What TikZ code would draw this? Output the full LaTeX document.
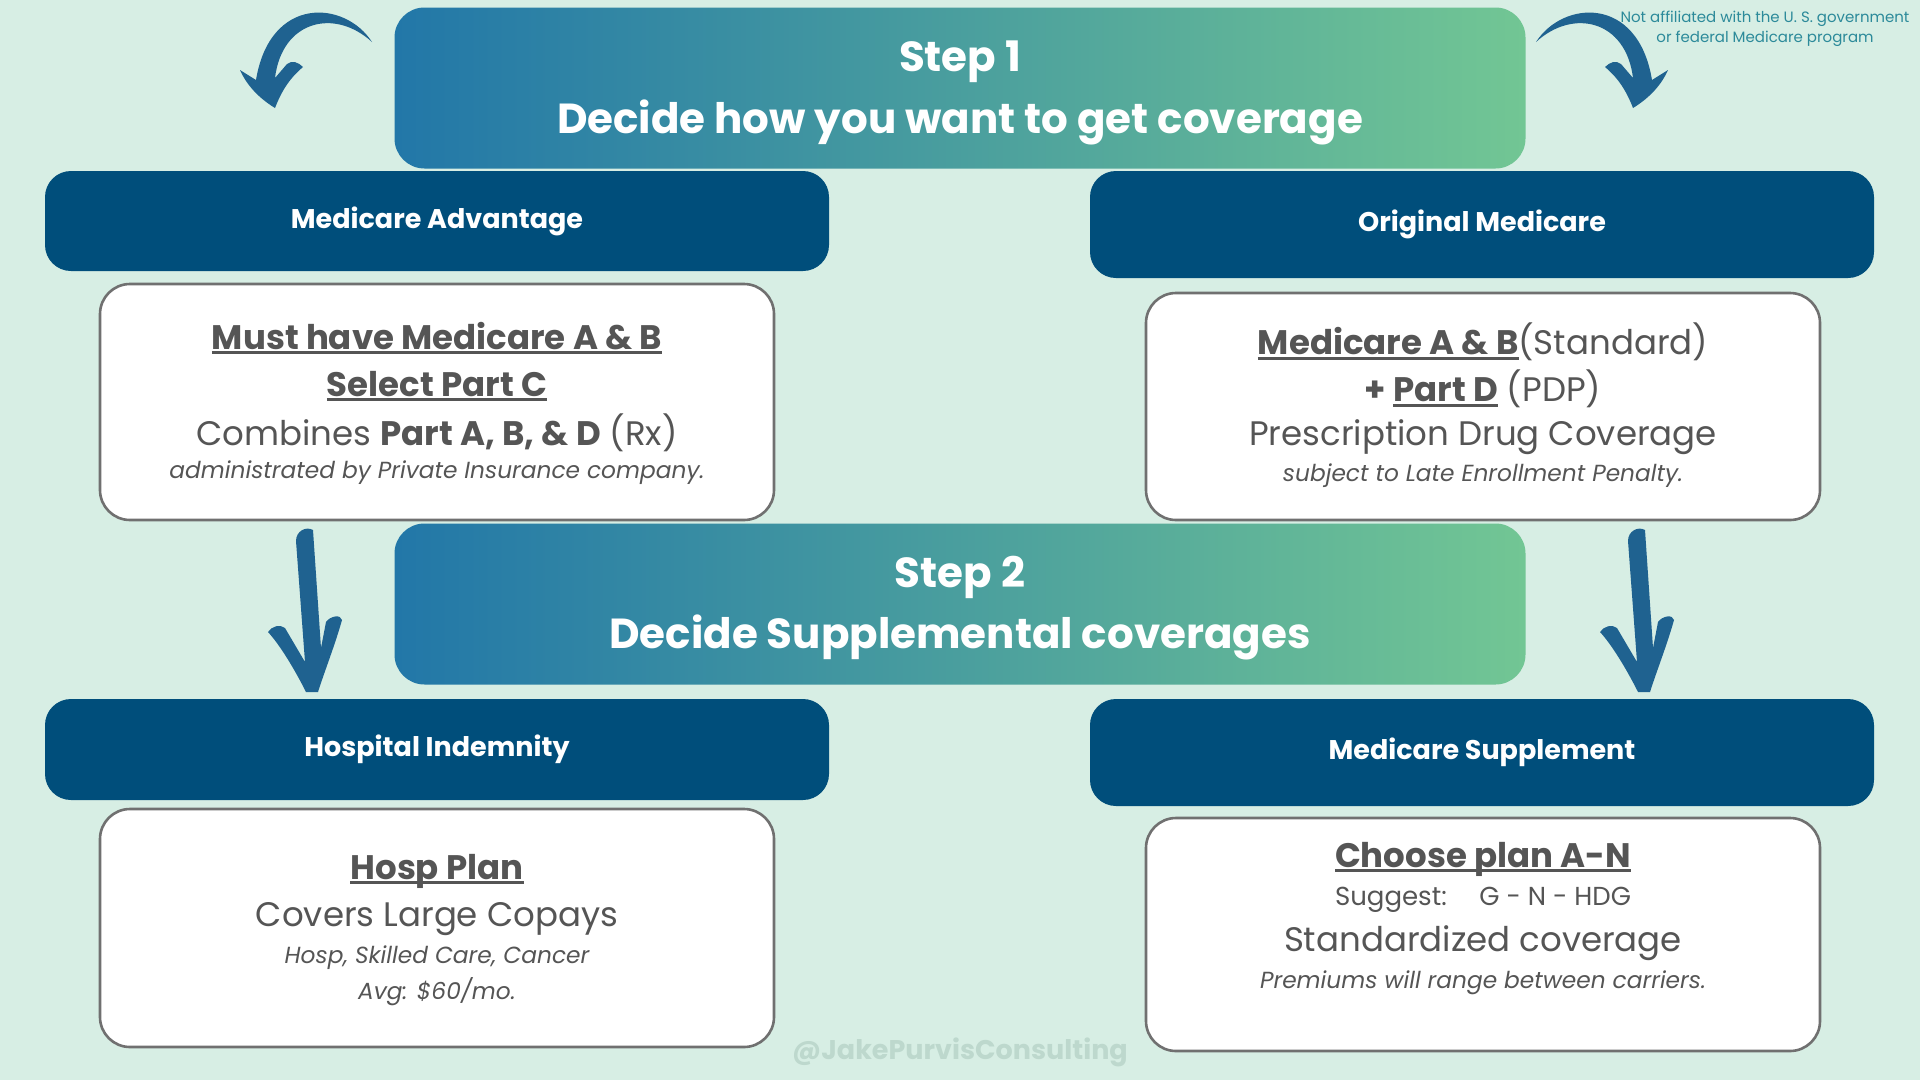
\documentclass[tikz,border=0pt]{standalone}
\usepackage{fontspec}
\setmainfont{Poppins}
\definecolor{bgc}{RGB}{215,238,228}
\definecolor{hdrc}{RGB}{0,78,123}
\definecolor{gradl}{RGB}{34,119,168}
\definecolor{gradr}{RGB}{114,198,148}
\definecolor{cardline}{RGB}{112,112,112}
\definecolor{txtc}{RGB}{85,85,85}
\definecolor{arrc}{RGB}{31,98,144}
\definecolor{notec}{RGB}{44,138,154}
\definecolor{wmc}{RGB}{189,216,205}
\newcommand\myul[1]{\sbox0{#1}\rlap{\rule[-5pt]{\wd0}{2.8pt}}\usebox0}
\tikzset{
  banner/.style={left color=gradl, right color=gradr, rounded corners=30pt, minimum width=1131pt, minimum height=161pt},
  steptxt/.style={text=white, font=\fontsize{42}{50}\selectfont\bfseries},
  hdr/.style={fill=hdrc, rounded corners=26pt, minimum width=784pt},
  hdrtxt/.style={text=white, font=\fontsize{27}{32}\selectfont\bfseries},
  card/.style={fill=white, draw=cardline, line width=2.6pt, rounded corners=30pt, minimum width=674pt},
  ttl/.style={text=txtc, font=\fontsize{34}{40}\selectfont\bfseries},
  bodyt/.style={text=txtc, font=\fontsize{34}{40}\selectfont},
  mid/.style={text=txtc, font=\fontsize{26}{30}\selectfont},
  ital/.style={text=txtc, font=\fontsize{23.3}{28}\selectfont\itshape},
  arrowshape/.style={fill=arrc}
}
\begin{document}
\begin{tikzpicture}[x=1pt,y=-1pt]
\useasboundingbox (0,0) rectangle (1920,1080);
\fill[bgc] (0,0) rectangle (1920,1080);

% banners
\node[banner] (s1) at (960,88) {};
\node[steptxt] (s1a) at (960,62) {Step 1};
\node[steptxt] (s1b) at (960,122) {Decide how you want to get coverage};
\node[banner] (s2) at (960,604) {};
\node[steptxt] (s2a) at (960,577) {Step 2};
\node[steptxt] (s2b) at (960,637) {Decide Supplemental coverages};

% headers
\node[hdr, minimum height=100pt] (ma) at (437,221) {};
\node[hdrtxt] at (ma.center) {Medicare Advantage};
\node[hdr, minimum height=107pt] (om) at (1482,224.5) {};
\node[hdrtxt] at (om.center) {Original Medicare};
\node[hdr, minimum height=101pt] (hi) at (437,749.5) {};
\node[hdrtxt] at (hi.center) {Hospital Indemnity};
\node[hdr, minimum height=107pt] (ms) at (1482,752.5) {};
\node[hdrtxt] at (ms.center) {Medicare Supplement};

% cards
\node[card, minimum height=236pt] (mac) at (437,402) {};
\node[ttl] (mac1) at (437,338) {\myul{Must have Medicare A \& B}};
\node[ttl] (mac2) at (437,386) {\myul{Select Part C}};
\node[bodyt] (mac3) at (437,433) {Combines \textbf{Part A, B, \& D} (Rx)};
\node[ital] (mac4) at (437,473) {administrated by Private Insurance company.};

\node[card, minimum height=227pt] (omc) at (1483,406.5) {};
\node[bodyt] (omc1) at (1483,342) {\textbf{\myul{Medicare A \& B}}(Standard)};
\node[bodyt] (omc2) at (1483,389) {\textbf{+ \myul{Part D}} (PDP)};
\node[bodyt] (omc3) at (1483,437) {Prescription Drug Coverage};
\node[ital] (omc4) at (1483,476) {subject to Late Enrollment Penalty.};

\node[card, minimum height=238pt] (hic) at (437,928) {};
\node[ttl] (hic1) at (437,871) {\myul{Hosp Plan}};
\node[bodyt] (hic2) at (437,919) {Covers Large Copays};
\node[ital] (hic3) at (437,958) {Hosp, Skilled Care, Cancer};
\node[ital] (hic4) at (437,992) {Avg: \$60/mo.};

\node[card, minimum height=233pt] (msc) at (1483,934.5) {};
\node[ttl] (msc1) at (1483,859) {\myul{Choose plan A-N}};
\node[mid] (msc2) at (1483,900) {Suggest:\hspace{0.9em} G - N - HDG};
\node[bodyt] (msc3) at (1483,943) {Standardized coverage};
\node[ital] (msc4) at (1483,983) {Premiums will range between carriers.};

% down arrows
\fill[arrowshape] (296,541) .. controls (296,531) and (306,526) .. (313,530) -- (321,648) -- (326,622) .. controls (330,616) and (341,614) .. (342,620) .. controls (335,645) and (325,670) .. (318,692) -- (306,692) .. controls (295,670) and (280,645) .. (268,632) .. controls (272,626) and (280,624) .. (285,628) -- (305,662) -- cycle;
\begin{scope}[xshift=1332pt]
\fill[arrowshape] (296,541) .. controls (296,531) and (306,526) .. (313,530) -- (321,648) -- (326,622) .. controls (330,616) and (341,614) .. (342,620) .. controls (335,645) and (325,670) .. (318,692) -- (306,692) .. controls (295,670) and (280,645) .. (268,632) .. controls (272,626) and (280,624) .. (285,628) -- (305,662) -- cycle;
\end{scope}

% curved arrows
\fill[arrowshape] (372,42) .. controls (345,0) and (270,-5) .. (256,80) -- (240,70) .. controls (248,88) and (262,100) .. (275,108) .. controls (282,90) and (290,78) .. (303,67) .. controls (298,62) and (292,60) .. (287,64) -- (275,78) .. controls (282,20) and (335,8) .. (372,42) -- cycle;
\begin{scope}[xshift=1908pt, xscale=-1]
\fill[arrowshape] (372,42) .. controls (345,0) and (270,-5) .. (256,80) -- (240,70) .. controls (248,88) and (262,100) .. (275,108) .. controls (282,90) and (290,78) .. (303,67) .. controls (298,62) and (292,60) .. (287,64) -- (275,78) .. controls (282,20) and (335,8) .. (372,42) -- cycle;
\end{scope}

% note and watermark
\node[text=notec, font=\fontsize{15}{20}\selectfont, align=center] (note) at (1765,29) {Not affiliated with the U. S. government\\or federal Medicare program};
\node[text=wmc, font=\fontsize{27}{32}\selectfont\bfseries] (wm) at (960,1052) {@JakePurvisConsulting};
\end{tikzpicture}
\end{document}
